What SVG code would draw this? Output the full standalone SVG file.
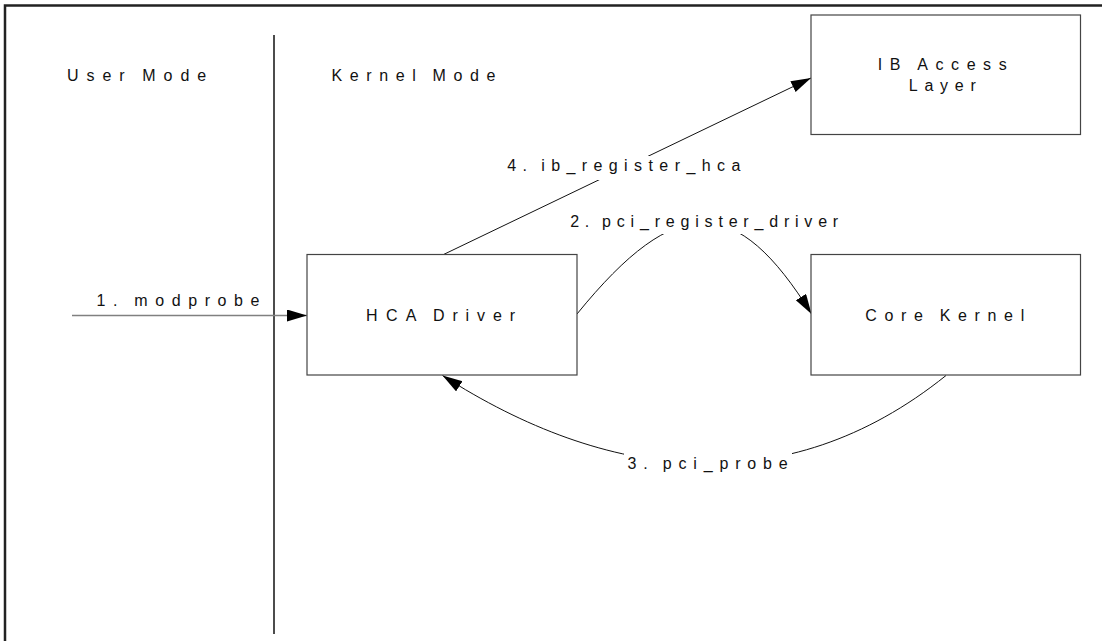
<svg xmlns="http://www.w3.org/2000/svg" width="1102" height="641" viewBox="0 0 1102 641">
  <style>
    .bg { fill: #ffffff; }
    .frame { fill: none; stroke: #222222; stroke-width: 2.5; }
    .divider { fill: none; stroke: #111111; stroke-width: 1.5; }
    .box { fill: #ffffff; stroke: #444444; stroke-width: 1.2; }
    .txt { font-family: "Liberation Sans", Arial, sans-serif; font-size: 16px; fill: #111111; }
    .conn { fill: none; stroke: #111111; stroke-width: 1; }
    .conn-grey { fill: none; stroke: #808080; stroke-width: 1.4; }
    .lblbg { fill: #ffffff; stroke: none; }
  </style>
  <defs>
    <marker id="arrow" markerUnits="userSpaceOnUse" markerWidth="22" markerHeight="14" refX="20" refY="6" orient="auto">
      <path d="M0,0 L20,6 L0,12 z" fill="#000000"/>
    </marker>
  </defs>

  <rect class="bg" x="0" y="0" width="1102" height="641"/>

  <g id="frame">
    <path class="frame" d="M5,641 V5.5 H1102"/>
    <line class="divider" x1="274" y1="35" x2="274" y2="634"/>
    <text class="txt" y="81"><tspan x="67" textLength="57.7" lengthAdjust="spacing">User</tspan> <tspan x="142.3" textLength="63.9" lengthAdjust="spacing">Mode</tspan></text>
    <text class="txt" y="81"><tspan x="331.5" textLength="84.2" lengthAdjust="spacing">Kernel</tspan> <tspan x="432.5" textLength="62.8" lengthAdjust="spacing">Mode</tspan></text>
  </g>

  <g id="connectors">
    <g id="c1-modprobe">
      <path class="conn-grey" d="M72,315.5 L307,315.5" marker-end="url(#arrow)"/>
      <text class="txt" y="306"><tspan x="96.5" textLength="20.9" lengthAdjust="spacing">1.</tspan> <tspan x="134.2" textLength="125.3" lengthAdjust="spacing">modprobe</tspan></text>
    </g>
    <g id="c4-ib_register_hca">
      <path class="conn" d="M442.5,255 L811,78" marker-end="url(#arrow)"/>
      <rect class="lblbg" x="505" y="156" width="238" height="24"/>
      <text class="txt" y="171"><tspan x="507.3" textLength="19.7" lengthAdjust="spacing">4.</tspan> <tspan x="541.2" textLength="199.1" lengthAdjust="spacing">ib_register_hca</tspan></text>
    </g>
    <g id="c2-pci_register_driver">
      <path class="conn" d="M577,314 C677,191 737,194 811.5,314" marker-end="url(#arrow)"/>
      <rect class="lblbg" x="567" y="208" width="274" height="26"/>
      <text class="txt" y="226.7"><tspan x="570.2" textLength="19.1" lengthAdjust="spacing">2.</tspan> <tspan x="602.1" textLength="236.1" lengthAdjust="spacing">pci_register_driver</tspan></text>
    </g>
    <g id="c3-pci_probe">
      <path class="conn" d="M946,375.5 C785,505 605,480 442.5,375.5" marker-end="url(#arrow)"/>
      <rect class="lblbg" x="624" y="451" width="168" height="26"/>
      <text class="txt" y="469.3"><tspan x="627.6" textLength="20.2" lengthAdjust="spacing">3.</tspan> <tspan x="662.8" textLength="124.8" lengthAdjust="spacing">pci_probe</tspan></text>
    </g>
  </g>

  <g id="node-ib-access-layer">
    <rect class="box" x="811" y="15" width="269.5" height="119.5"/>
    <text class="txt" y="69.5"><tspan x="877.8" textLength="22.7" lengthAdjust="spacing">IB</tspan> <tspan x="917.2" textLength="89.5" lengthAdjust="spacing">Access</tspan></text>
    <text class="txt" x="908.8" y="91" textLength="67" lengthAdjust="spacing">Layer</text>
  </g>

  <g id="node-hca-driver">
    <rect class="box" x="307" y="254.5" width="270" height="120.5"/>
    <text class="txt" y="321"><tspan x="366.1" textLength="49.5" lengthAdjust="spacing">HCA</tspan> <tspan x="433" textLength="82" lengthAdjust="spacing">Driver</tspan></text>
  </g>

  <g id="node-core-kernel">
    <rect class="box" x="811" y="254.5" width="269.5" height="120.5"/>
    <text class="txt" y="321"><tspan x="865.2" textLength="57.6" lengthAdjust="spacing">Core</tspan> <tspan x="939.7" textLength="84.5" lengthAdjust="spacing">Kernel</tspan></text>
  </g>
</svg>
